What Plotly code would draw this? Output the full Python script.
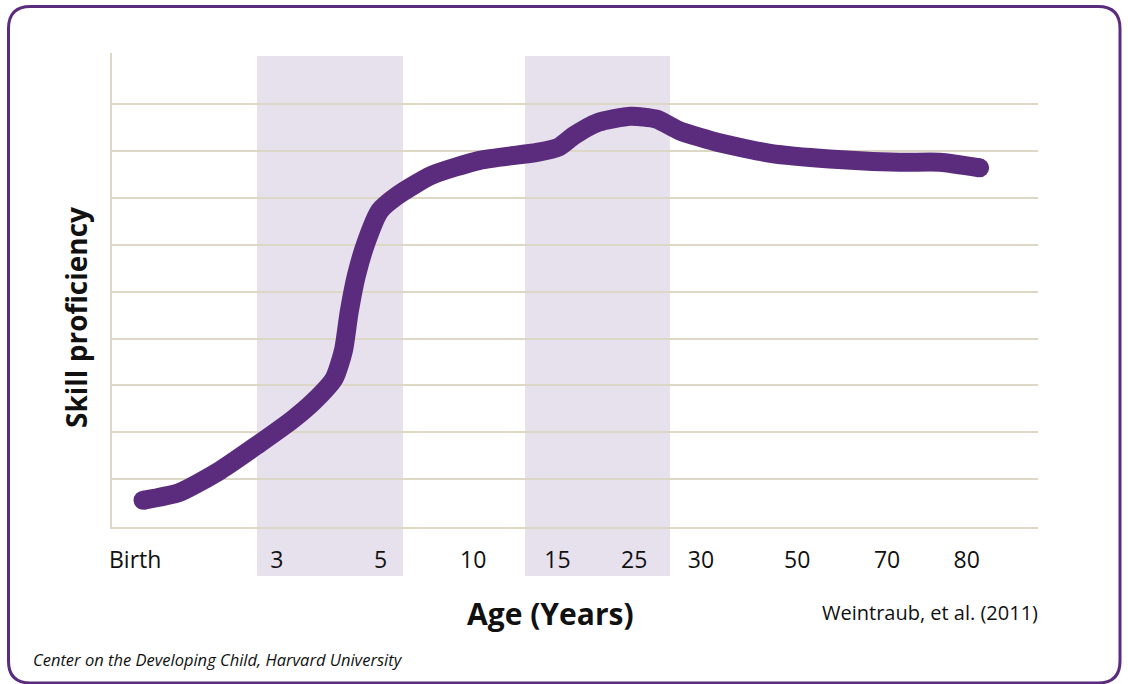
import plotly.graph_objects as go

# ---- data ----
tick_labels = ["Birth", "3", "5", "10", "15", "25", "30", "50", "70", "80"]
tick_pos = [2.5, 17.8, 29.0, 39.0, 48.1, 56.4, 63.6, 74.0, 83.7, 92.3]

curve_x = [3.35, 7.3, 11.7, 15.7, 19.5, 21.8, 24.0, 25.0, 25.6, 26.4, 27.5, 28.9,
           30.9, 34.5, 39.7, 45.9, 48.2, 49.9, 52.5, 56.0, 58.8, 61.3, 65.7,
           71.1, 77.5, 85.1, 89.4, 93.7]
curve_y = [0.55, 0.72, 1.19, 1.73, 2.27, 2.66, 3.15, 3.75, 4.55, 5.35, 6.08, 6.72,
           7.06, 7.48, 7.80, 7.97, 8.08, 8.33, 8.61, 8.74, 8.68, 8.43, 8.17,
           7.95, 7.83, 7.76, 7.76, 7.64]

band_ranges = [(15.66, 31.43), (44.6, 60.26)]
grid_vals = [1, 2, 3, 4, 5, 6, 7, 8, 9]

# ---- layout constants (pixels) ----
W, H = 1128, 684
L, R, T, B = 112, 1038, 53, 527
PW, PH = R - L, B - T


def px_x(p):
    return (p - L) / PW


def px_y(p):
    return (B - p) / PH


purple = "#5b2c7d"
grid_col = "#ddd8c6"
band_col = "#e7e0ed"

fig = go.Figure()

fig.add_trace(go.Scatter(
    x=curve_x, y=curve_y, mode="lines",
    line=dict(color=purple, width=19, shape="spline", smoothing=0.6),
    hoverinfo="skip", showlegend=False,
))
fig.add_trace(go.Scatter(
    x=[curve_x[0], curve_x[-1]], y=[curve_y[0], curve_y[-1]], mode="markers",
    marker=dict(color=purple, size=19, line=dict(width=0)),
    hoverinfo="skip", showlegend=False,
))

shapes = []
for x0, x1 in band_ranges:
    shapes.append(dict(type="rect", xref="x", yref="paper", x0=x0, x1=x1,
                       y0=px_y(576), y1=px_y(56), fillcolor=band_col,
                       line=dict(width=0), layer="below"))

# rounded border
bx0, bx1, by0, by1, r = 8.5, 1120, 6.5, 683, 22


def P(x, y):
    return f"{px_x(x):.5f},{px_y(y):.5f}"


path = (f"M {P(bx0 + r, by0)} L {P(bx1 - r, by0)} Q {P(bx1, by0)} {P(bx1, by0 + r)} "
        f"L {P(bx1, by1 - r)} Q {P(bx1, by1)} {P(bx1 - r, by1)} "
        f"L {P(bx0 + r, by1)} Q {P(bx0, by1)} {P(bx0, by1 - r)} "
        f"L {P(bx0, by0 + r)} Q {P(bx0, by0)} {P(bx0 + r, by0)} Z")
shapes.append(dict(type="path", xref="paper", yref="paper", path=path,
                   line=dict(color=purple, width=3), fillcolor="rgba(0,0,0,0)",
                   layer="above"))

font_main = "'Open Sans', Lato, sans-serif"

annotations = [
    dict(text="<b>Age (Years)</b>", xref="paper", yref="paper",
         x=px_x(550), y=px_y(613), xanchor="center", yanchor="middle",
         showarrow=False, font=dict(size=30, color="#111111", family=font_main)),
    dict(text="Weintraub, et al. (2011)", xref="paper", yref="paper",
         x=px_x(1040), y=px_y(612), xanchor="right", yanchor="middle",
         showarrow=False, font=dict(size=20, color="#111111", family=font_main)),
    dict(text="<b>Skill proficiency</b>", xref="paper", yref="paper",
         x=px_x(76), y=px_y(318), xanchor="center", yanchor="middle", textangle=-90,
         showarrow=False, font=dict(size=28, color="#111111", family=font_main)),
    dict(text="<i>Center on the Developing Child, Harvard University</i>", xref="paper",
         yref="paper", x=px_x(31), y=px_y(659), xanchor="left", yanchor="middle",
         showarrow=False, font=dict(size=16.5, color="#111111", family=font_main)),
]

fig.update_layout(
    width=W, height=H,
    margin=dict(l=L, r=W - R, t=T, b=H - B, pad=0),
    paper_bgcolor="white", plot_bgcolor="white",
    shapes=shapes, annotations=annotations,
    font=dict(family=font_main, color="#111111"),
    xaxis=dict(range=[0, 100], tickvals=tick_pos, ticktext=tick_labels,
               showgrid=False, zeroline=False, showline=True, linecolor=grid_col,
               linewidth=2, ticks="outside", ticklen=11, tickcolor="rgba(0,0,0,0)",
               tickfont=dict(size=23, color="#111111", family=font_main),
               fixedrange=True),
    yaxis=dict(range=[-0.02, 10.09], tickvals=grid_vals, showticklabels=False,
               showgrid=True, gridcolor=grid_col, gridwidth=2, zeroline=False,
               showline=True, linecolor=grid_col, linewidth=2, ticks="",
               fixedrange=True),
    showlegend=False,
)

fig.write_html(
    "out.html",
    config={"displayModeBar": False, "staticPlot": True},
    post_script="document.body.style.margin='0';document.body.style.overflow='hidden';",
)
